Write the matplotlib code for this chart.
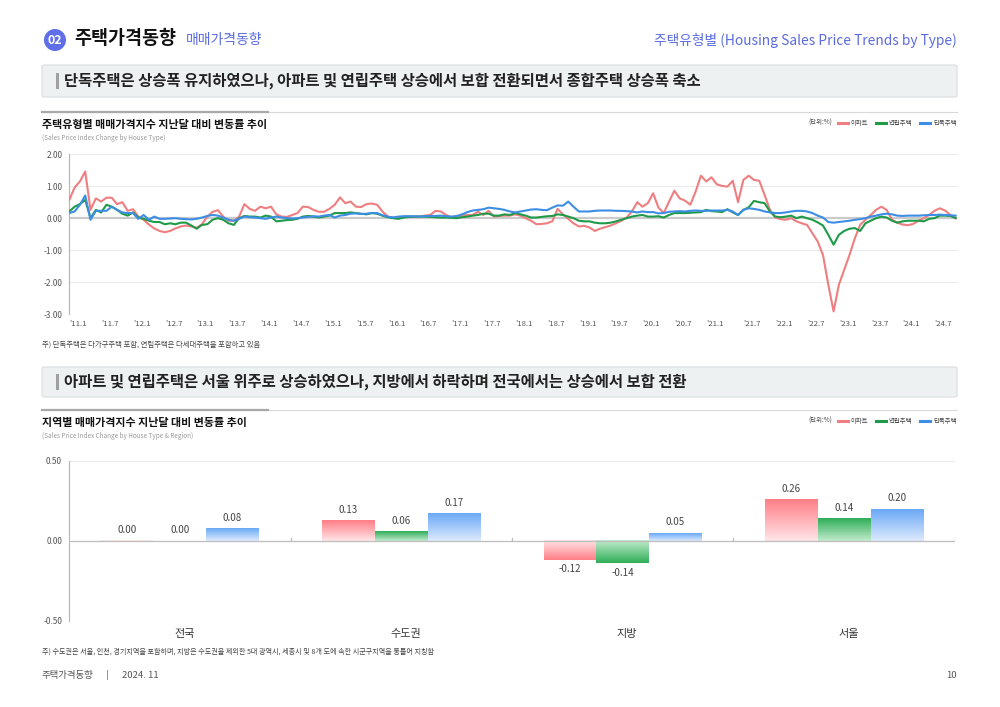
import numpy as np
import matplotlib
matplotlib.use("Agg")
import matplotlib.pyplot as plt
from matplotlib.patches import Rectangle, Ellipse, FancyBboxPatch
from matplotlib.lines import Line2D
import matplotlib.colors as mcolors

plt.rcParams['font.family'] = ['Noto Sans CJK KR', 'DejaVu Sans']
plt.rcParams['axes.unicode_minus'] = False

# ---------------- data: line chart (monthly, '11.1 ~ '24.11, '21.6 reported twice) ----------------
months = []
for yy in range(11, 25):
    for mm in range(1, 13):
        if yy == 24 and mm > 11:
            break
        months.append(f"'{yy}.{mm}")
        if yy == 21 and mm == 6:
            months.append("'21.6(신)")

tick_labels = ["'11.1", "'11.7", "'12.1", "'12.7", "'13.1", "'13.7", "'14.1", "'14.7",
               "'15.1", "'15.7", "'16.1", "'16.7", "'17.1", "'17.7", "'18.1", "'18.7",
               "'19.1", "'19.7", "'20.1", "'20.7", "'21.1", "'21.7", "'22.1", "'22.7",
               "'23.1", "'23.7", "'24.1", "'24.7"]

apt = [0.57, 0.96, 1.15, 1.46, 0.26, 0.62, 0.52, 0.64, 0.64, 0.44, 0.50, 0.23, 0.28, 0.05,
       -0.05, -0.20, -0.32, -0.40, -0.44, -0.40, -0.32, -0.26, -0.23, -0.26, -0.30, -0.19,
       0.05, 0.20, 0.25, 0.05, -0.08, -0.08, 0.05, 0.44, 0.29, 0.23, 0.36, 0.31, 0.36, 0.12,
       0.05, 0.04, 0.10, 0.16, 0.36, 0.35, 0.26, 0.20, 0.20, 0.29, 0.42, 0.65, 0.47, 0.52,
       0.36, 0.35, 0.44, 0.46, 0.42, 0.21, 0.05, 0.02, 0.00, 0.05, 0.05, 0.04, 0.05, 0.08,
       0.10, 0.23, 0.21, 0.10, 0.03, 0.02, 0.08, 0.10, 0.10, 0.20, 0.10, 0.23, 0.05, 0.07,
       0.08, 0.08, 0.12, 0.08, 0.00, -0.08, -0.19, -0.18, -0.16, -0.10, 0.29, 0.12, -0.02,
       -0.16, -0.26, -0.24, -0.29, -0.40, -0.33, -0.28, -0.23, -0.16, -0.08, 0.02, 0.21,
       0.50, 0.36, 0.47, 0.78, 0.33, 0.16, 0.52, 0.86, 0.62, 0.55, 0.42, 0.83, 1.33, 1.15,
       1.28, 1.06, 1.01, 0.99, 1.17, 0.50, 1.20, 1.33, 1.20, 1.17, 0.73, 0.26, 0.02, -0.03,
       -0.05, 0.00, -0.10, -0.16, -0.21, -0.47, -0.73, -1.15, -2.08, -2.92, -2.08, -1.61,
       -1.15, -0.63, -0.21, -0.05, 0.10, 0.26, 0.36, 0.26, -0.05, -0.14, -0.20, -0.22,
       -0.18, -0.08, 0.00, 0.10, 0.23, 0.31, 0.24, 0.10, 0.00]

row = [0.21, 0.36, 0.44, 0.57, 0.00, 0.26, 0.18, 0.42, 0.36, 0.26, 0.14, 0.08, 0.18, 0.02,
       -0.02, -0.08, -0.12, -0.12, -0.19, -0.16, -0.19, -0.14, -0.14, -0.23, -0.33, -0.21,
       -0.19, -0.05, 0.00, -0.05, -0.16, -0.21, 0.00, 0.07, 0.05, 0.05, 0.02, 0.08, 0.05,
       -0.10, -0.08, -0.06, -0.05, -0.02, 0.05, 0.07, 0.05, 0.02, 0.05, 0.08, 0.16, 0.16,
       0.16, 0.18, 0.16, 0.14, 0.12, 0.16, 0.14, 0.08, 0.03, 0.00, -0.02, 0.02, 0.04, 0.05,
       0.05, 0.05, 0.04, 0.03, 0.02, 0.02, 0.01, 0.00, 0.03, 0.05, 0.08, 0.10, 0.14, 0.14,
       0.08, 0.08, 0.12, 0.10, 0.16, 0.12, 0.08, 0.02, 0.02, 0.04, 0.06, 0.07, 0.12, 0.10,
       0.05, 0.00, -0.08, -0.10, -0.10, -0.14, -0.16, -0.16, -0.14, -0.10, -0.05, 0.00,
       0.05, 0.08, 0.10, 0.05, 0.05, 0.06, 0.02, 0.10, 0.16, 0.16, 0.16, 0.17, 0.18, 0.19,
       0.26, 0.22, 0.21, 0.19, 0.28, 0.18, 0.10, 0.26, 0.34, 0.54, 0.50, 0.47, 0.21, 0.05,
       0.03, 0.05, 0.08, 0.00, 0.05, 0.00, -0.05, -0.13, -0.23, -0.52, -0.83, -0.52, -0.40,
       -0.33, -0.31, -0.40, -0.16, -0.08, 0.00, 0.05, 0.02, -0.08, -0.14, -0.10, -0.08,
       -0.08, -0.08, -0.10, -0.02, 0.00, 0.08, 0.08, 0.07, 0.00]

det = [0.16, 0.21, 0.42, 0.71, -0.05, 0.23, 0.23, 0.23, 0.36, 0.26, 0.18, 0.16, 0.16, -0.02,
       0.10, -0.05, 0.05, -0.02, -0.02, -0.01, 0.00, -0.02, -0.03, -0.04, -0.02, 0.02, 0.07,
       0.10, 0.08, 0.02, -0.05, -0.08, -0.02, 0.05, 0.03, 0.02, 0.00, -0.02, 0.02, 0.05,
       0.02, 0.00, -0.01, 0.00, 0.02, 0.04, 0.06, 0.05, 0.08, 0.10, 0.02, 0.08, 0.10, 0.14,
       0.15, 0.13, 0.14, 0.16, 0.16, 0.09, 0.05, 0.02, 0.05, 0.06, 0.06, 0.06, 0.05, 0.06,
       0.07, 0.07, 0.08, 0.06, 0.05, 0.07, 0.12, 0.19, 0.24, 0.26, 0.28, 0.33, 0.31, 0.29,
       0.26, 0.21, 0.18, 0.21, 0.24, 0.27, 0.28, 0.26, 0.25, 0.33, 0.40, 0.39, 0.52, 0.36,
       0.21, 0.21, 0.21, 0.23, 0.24, 0.24, 0.24, 0.23, 0.23, 0.22, 0.21, 0.18, 0.21, 0.19,
       0.19, 0.15, 0.16, 0.20, 0.21, 0.22, 0.21, 0.23, 0.24, 0.23, 0.23, 0.24, 0.24, 0.24,
       0.26, 0.21, 0.10, 0.26, 0.31, 0.29, 0.26, 0.21, 0.18, 0.16, 0.16, 0.18, 0.21, 0.23,
       0.23, 0.21, 0.16, 0.08, 0.02, -0.12, -0.14, -0.12, -0.10, -0.08, -0.05, -0.03, 0.00,
       0.05, 0.08, 0.12, 0.14, 0.12, 0.08, 0.07, 0.08, 0.08, 0.08, 0.09, 0.10, 0.10, 0.11,
       0.10, 0.09, 0.08]

# ---------------- data: bar chart ----------------
regions = ['전국', '수도권', '지방', '서울']
bar_apt = [0.00, 0.13, -0.12, 0.26]
bar_row = [0.00, 0.06, -0.14, 0.14]
bar_det = [0.08, 0.17, 0.05, 0.20]

series_names = ['아파트', '연립주택', '단독주택']
line_colors = ['#EE7E80', '#1E9A48', '#3C8EE4']
grad_dark = ['#FF7E86', '#2FAE58', '#6BA9F6']
grad_light = ['#FFE6E8', '#C2EBCD', '#DDEAFD']

# ---------------- figure ----------------
W, H = 1000, 707
fig = plt.figure(figsize=(10, 7.07), dpi=100)
fig.patch.set_facecolor('white')


def fx(x):
    return x / W


def fy(y):
    return 1 - y / H


def T(x, y, s, size, color='#222222', weight='normal', ha='left', va='center', **kw):
    fig.text(fx(x), fy(y), s, fontsize=size, color=color, fontweight=weight,
             ha=ha, va=va, **kw)


accent = '#5A6BE0'

# header
fig.add_artist(Ellipse((fx(55), fy(40)), 22 / W, 22 / H, transform=fig.transFigure,
                       facecolor='#5F6FEA', edgecolor='none'))
T(55, 40.5, '02', 9, color='white', weight='bold', ha='center')
T(74, 39, '주택가격동향', 13.3, color='#111111', weight='bold')
T(186, 40, '매매가격동향', 10, color=accent)
T(957, 40, '주택유형별 (Housing Sales Price Trends by Type)', 9.9, color=accent, ha='right')


def section_box(y0, y1, text):
    fig.add_artist(FancyBboxPatch((fx(42), fy(y1)), fx(957) - fx(42), (y1 - y0) / H,
                                  boxstyle='round,pad=0,rounding_size=0.002',
                                  transform=fig.transFigure, facecolor='#EEF1F2',
                                  edgecolor='#D9DEE0', linewidth=0.8))
    yc = (y0 + y1) / 2
    fig.add_artist(Rectangle((fx(56), fy(yc + 8)), 3 / W, 16 / H, transform=fig.transFigure,
                             facecolor='#A0A0A0', edgecolor='none'))
    T(64, yc, text, 11.1, color='#222222', weight='bold')


section_box(65, 97, '단독주택은 상승폭 유지하였으나, 아파트 및 연립주택 상승에서 보합 전환되면서 종합주택 상승폭 축소')
section_box(367, 397, '아파트 및 연립주택은 서울 위주로 상승하였으나, 지방에서 하락하며 전국에서는 상승에서 보합 전환')


def chart_header(y_line, title, subtitle):
    fig.add_artist(Line2D([fx(42), fx(957)], [fy(y_line), fy(y_line)], transform=fig.transFigure,
                          color='#DADADA', lw=0.8))
    fig.add_artist(Line2D([fx(42), fx(268)], [fy(y_line), fy(y_line)], transform=fig.transFigure,
                          color='#A9A9A9', lw=1.6))
    T(42, y_line + 13, title, 7.9, color='#111111', weight='bold')
    T(42, y_line + 26, subtitle, 4.6, color='#9A9A9A')
    # legend
    yl = y_line + 11
    T(808, yl, '(단위:%)', 4.6, color='#444444')
    xs = [838, 876, 920]
    for xx, nm, c in zip(xs, series_names, line_colors):
        fig.add_artist(Line2D([fx(xx), fx(xx + 10)], [fy(yl), fy(yl)], transform=fig.transFigure,
                              color=c, lw=2.2))
        T(xx + 13, yl, nm, 4.6, color='#444444')


chart_header(112, '주택유형별 매매가격지수 지난달 대비 변동률 추이', '(Sales Price Index Change by House Type)')
chart_header(410, '지역별 매매가격지수 지난달 대비 변동률 추이', '(Sales Price Index Change by House Type & Region)')

# ---------------- line chart ----------------
ax1 = fig.add_axes([fx(69.3), fy(314), fx(957) - fx(69.3), (314 - 154.3) / H])
x = np.arange(len(months))
ax1.set_xlim(0, len(months) - 1 + 0.25)
ax1.set_ylim(-3, 2)
for v in [2, 1, -1, -2, -3]:
    ax1.axhline(v, color='#CFCFCF', lw=0.6, ls=(0, (1.2, 1.2)), zorder=0)
ax1.axhline(0, color='#CACACA', lw=1.6, zorder=1)
for nm, s, c in zip(series_names, [apt, row, det], line_colors):
    ax1.plot(x, s, color=c, lw=1.5, zorder=3, solid_joinstyle='round')
for sp in ['top', 'right', 'bottom']:
    ax1.spines[sp].set_visible(False)
ax1.spines['left'].set_color('#B5B5B5')
ax1.spines['left'].set_linewidth(0.8)
ax1.set_yticks([2, 1, 0, -1, -2, -3])
ax1.set_yticklabels([f'{v:.2f}' for v in [2, 1, 0, -1, -2, -3]])
ax1.tick_params(axis='y', length=0, pad=5, labelsize=6.0, labelcolor='#555555')
tick_pos = [months.index(t) for t in tick_labels]
ax1.set_xticks(tick_pos)
ax1.set_xticklabels(tick_labels, ha='left')
ax1.tick_params(axis='x', length=0, pad=4, labelsize=5.6, labelcolor='#555555')
ax1.set_facecolor('none')

T(42, 345, '주) 단독주택은 다가구주택 포함, 연립주택은 다세대주택을 포함하고 있음', 5.3, color='#444444')

# ---------------- bar chart ----------------
ax2 = fig.add_axes([fx(69), fy(621), fx(955) - fx(69), (621 - 461) / H])
ax2.set_xlim(-0.5, len(regions) - 0.5)
ax2.set_ylim(-0.5, 0.5)
for v in [0.5, -0.5]:
    ax2.axhline(v, color='#CFCFCF', lw=0.6, ls=(0, (1.2, 1.2)), zorder=0)
ax2.axhline(0, color='#BDBDBD', lw=0.9, zorder=4)
for b in np.arange(len(regions)) + 0.5:
    ax2.plot([b, b], [0, 0.018], color='#BDBDBD', lw=0.9, zorder=4)

bw = 0.238
xr = np.arange(len(regions))
for k, (vals, dk, lt) in enumerate(zip([bar_apt, bar_row, bar_det], grad_dark, grad_light)):
    off = (k - 1) * bw
    bars = ax2.bar(xr + off, vals, width=bw, color='none', edgecolor='none', zorder=2)
    cdk = np.array(mcolors.to_rgba(dk))
    clt = np.array(mcolors.to_rgba(lt))
    for rect, v in zip(bars, vals):
        x0 = rect.get_x()
        x1 = x0 + rect.get_width()
        if v != 0:
            t = np.linspace(0, 1, 64)[:, None]
            if v > 0:
                cols = clt + (cdk - clt) * t
            else:
                cols = cdk + (clt - cdk) * t
            img = cols[:, None, :]
            ax2.imshow(img, extent=[x0, x1, min(0, v), max(0, v)], origin='lower',
                       aspect='auto', zorder=2, interpolation='bilinear')
        elif k == 0:
            ax2.plot([x0, x1], [v, v], color=lt, lw=1.2, zorder=3)
        xc = x0 + rect.get_width() / 2
        if v >= 0:
            ax2.annotate(f'{v:.2f}', (xc, v), xytext=(0, 4), textcoords='offset points',
                         ha='center', va='bottom', fontsize=7, color='#444444')
        else:
            ax2.annotate(f'{v:.2f}', (xc, v), xytext=(0, -3), textcoords='offset points',
                         ha='center', va='top', fontsize=7, color='#444444')
ax2.set_xlim(-0.5, len(regions) - 0.5)
ax2.set_ylim(-0.5, 0.5)
for sp in ['top', 'right', 'bottom']:
    ax2.spines[sp].set_visible(False)
ax2.spines['left'].set_color('#B5B5B5')
ax2.spines['left'].set_linewidth(0.8)
ax2.set_yticks([0.5, 0, -0.5])
ax2.set_yticklabels([f'{v:.2f}' for v in [0.5, 0, -0.5]])
ax2.tick_params(axis='y', length=0, pad=5, labelsize=6.0, labelcolor='#555555')
ax2.set_xticks(xr + 0.02)
ax2.set_xticklabels(regions)
ax2.tick_params(axis='x', length=0, pad=6, labelsize=8, labelcolor='#333333')
ax2.set_facecolor('none')

T(42, 652, '주) 수도권은 서울, 인천, 경기지역을 포함하며, 지방은 수도권을 제외한 5대 광역시, 세종시 및 8개 도에 속한 시군구지역을 통틀어 지칭함',
  5.1, color='#444444')

# footer
T(42, 675, '주택가격동향', 6.8, color='#555555')
T(106, 675, '|', 6.8, color='#555555')
T(122, 675, '2024. 11', 6.8, color='#555555')
T(957, 675, '10', 6.8, color='#555555', ha='right')

fig.savefig('out.png', dpi=100)
